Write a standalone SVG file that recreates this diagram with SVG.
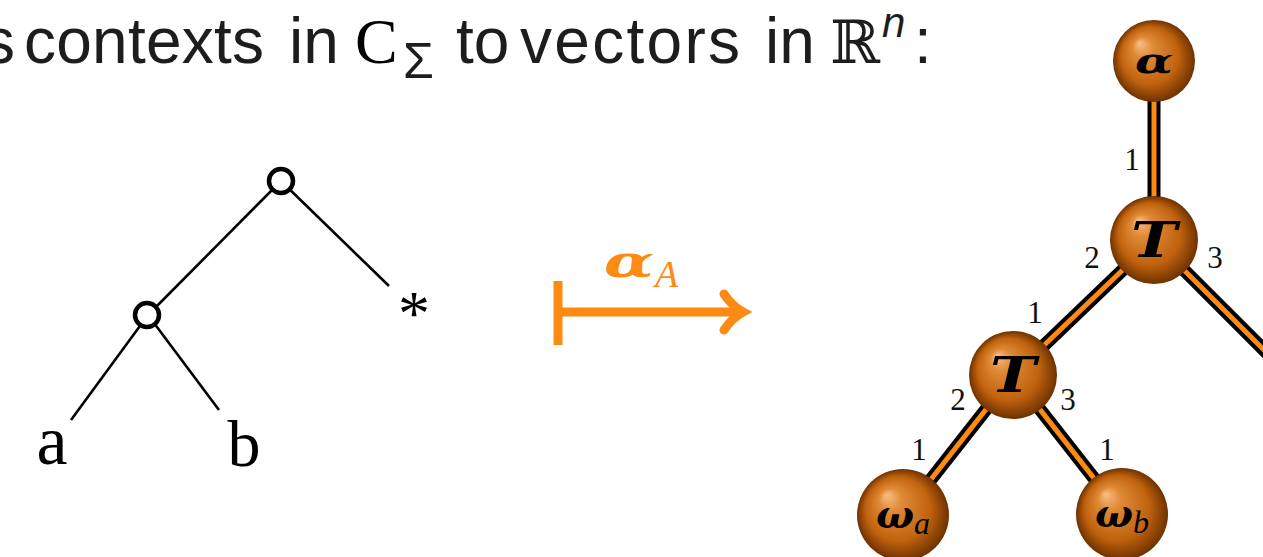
<svg xmlns="http://www.w3.org/2000/svg" width="1263" height="557" viewBox="0 0 1263 557">
<defs>
<radialGradient id="ball" cx="0.5" cy="0.5" r="0.5" fx="0.32" fy="0.28">
<stop offset="0" stop-color="#f8c08a"/>
<stop offset="0.25" stop-color="#e08a36"/>
<stop offset="0.7" stop-color="#c0620e"/>
<stop offset="1" stop-color="#6e3200"/>
</radialGradient>
</defs>
<style>
.title{font-family:"Liberation Sans",Arial,sans-serif;font-size:64px;fill:#1e1c1c}
.serif{font-family:"Liberation Serif","DejaVu Serif",serif;fill:#000}
.tl{stroke:#000;stroke-width:2.6;fill:none}
.tn{fill:#fff;stroke:#000;stroke-width:4.5}
.eo{stroke:#000;stroke-width:13;fill:none}
.ei{stroke:#fd8a12;stroke-width:5;fill:none}
.ball{fill:url(#ball)}
.bl{font-family:"DejaVu Serif","Liberation Serif",serif;font-style:italic;font-weight:bold;fill:#000;text-anchor:middle}
.el{font-family:"Liberation Serif","DejaVu Serif",serif;font-size:31px;fill:#111;text-anchor:middle}
.or{stroke:#fd8a12;stroke-width:9;fill:none;stroke-linecap:butt}
</style>
<g id="title">
<text class="title" x="-17" y="63">s</text>
<text class="title" x="24" y="63" textLength="240">contexts</text>
<text class="title" x="289" y="63">in</text>
<text class="serif" x="355" y="63" font-size="64" fill="#1e1c1c">C</text>
<text x="403" y="78" font-family="Liberation Sans, Arial, sans-serif" font-size="50" fill="#1e1c1c">Σ</text>
<text class="title" x="456" y="63">to</text>
<text class="title" x="520" y="63" textLength="220">vectors</text>
<text class="title" x="765" y="63">in</text>
<text x="830" y="63" font-family="DejaVu Serif, serif" font-size="60" fill="#1e1c1c">ℝ</text>
<text x="882" y="37" font-family="Liberation Sans, Arial, sans-serif" font-size="42" font-style="italic" fill="#1e1c1c">n</text>
<text class="title" x="914" y="63">:</text>
</g>
<g id="left-tree-edges">
<line class="tl" x1="281" y1="181" x2="148" y2="315"/>
<line class="tl" x1="281" y1="181" x2="389" y2="286"/>
<line class="tl" x1="148" y1="315" x2="71" y2="420"/>
<line class="tl" x1="148" y1="315" x2="219" y2="410"/>
</g>
<g id="lt-root"><circle class="tn" cx="281" cy="181" r="12"/></g>
<g id="lt-inner"><circle class="tn" cx="147" cy="315" r="12"/></g>
<g id="lt-a"><text class="serif" x="52" y="464" font-size="70" text-anchor="middle">a</text></g>
<g id="lt-b"><text class="serif" x="244" y="466" font-size="66" text-anchor="middle">b</text></g>
<g id="lt-star"><text class="serif" x="414" y="335" font-size="64" text-anchor="middle">*</text></g>
<g id="map-arrow">
<line class="or" x1="558" y1="281" x2="558" y2="345"/>
<line class="or" x1="558" y1="312" x2="740" y2="312"/>
<path class="or" d="M724,294 Q732,306 743,312 Q732,318 724,330" style="stroke-linecap:round"/>
<text x="604" y="277" font-family="DejaVu Serif, serif" font-size="44" font-style="italic" font-weight="bold" fill="#fd8a12" textLength="50" lengthAdjust="spacingAndGlyphs">α</text>
<text x="655" y="287" font-family="Liberation Serif, serif" font-size="38" font-style="italic" fill="#fd8a12">A</text>
</g>
<g id="connectors">
<line class="eo" x1="1154" y1="61" x2="1154" y2="240"/>
<line class="ei" x1="1154" y1="61" x2="1154" y2="240"/>
<line class="eo" x1="1154" y1="240" x2="1013" y2="375"/>
<line class="ei" x1="1154" y1="240" x2="1013" y2="375"/>
<line class="eo" x1="1154" y1="240" x2="1300" y2="386"/>
<line class="ei" x1="1154" y1="240" x2="1300" y2="386"/>
<line class="eo" x1="1013" y1="375" x2="903" y2="515"/>
<line class="ei" x1="1013" y1="375" x2="903" y2="515"/>
<line class="eo" x1="1013" y1="375" x2="1122" y2="514"/>
<line class="ei" x1="1013" y1="375" x2="1122" y2="514"/>
<text class="el" x="1132" y="170">1</text>
<text class="el" x="1092" y="268">2</text>
<text class="el" x="1215" y="268">3</text>
<text class="el" x="1035" y="323">1</text>
<text class="el" x="958" y="410">2</text>
<text class="el" x="1068" y="410">3</text>
<text class="el" x="919" y="460">1</text>
<text class="el" x="1107" y="460">1</text>
</g>
<g id="n-alpha"><circle class="ball" cx="1154" cy="61" r="41"/><text class="bl" x="1154" y="73" font-size="36" textLength="38" lengthAdjust="spacingAndGlyphs">α</text></g>
<g id="n-tau1"><circle class="ball" cx="1154" cy="240" r="44"/><text class="bl" x="1154" y="257" font-size="48" textLength="46" lengthAdjust="spacingAndGlyphs">T</text></g>
<g id="n-tau2"><circle class="ball" cx="1013" cy="375" r="44"/><text class="bl" x="1013" y="392" font-size="48" textLength="46" lengthAdjust="spacingAndGlyphs">T</text></g>
<g id="n-wa"><circle class="ball" cx="903" cy="515" r="46"/><text class="bl" x="903" y="528" font-size="40"><tspan>ω</tspan><tspan font-family="Liberation Serif, serif" font-size="32" font-weight="normal" dy="6">a</tspan></text></g>
<g id="n-wb"><circle class="ball" cx="1122" cy="514" r="46"/><text class="bl" x="1122" y="527" font-size="40"><tspan>ω</tspan><tspan font-family="Liberation Serif, serif" font-size="32" font-weight="normal" dy="6">b</tspan></text></g>
</svg>
